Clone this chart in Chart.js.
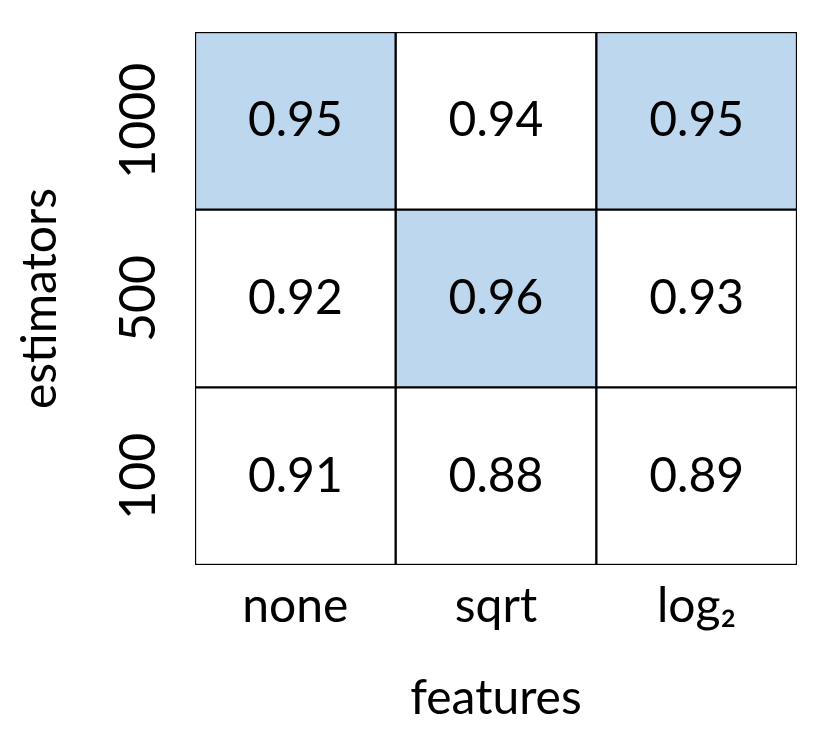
<!DOCTYPE html>
<html>
<head>
<meta charset="utf-8">
<script src="https://cdn.jsdelivr.net/npm/chart.js@4"></script>
<style>
  html, body { margin: 0; padding: 0; background: #fff; }
  #wrap { width: 831px; height: 731px; }
</style>
</head>
<body>
<div id="wrap"><canvas id="grid" width="831" height="731"></canvas></div>
<script>
// accuracy grid: features (columns) x estimators (rows)
const features = ['none', 'sqrt', 'log\u2082'];
const estimators = ['100', '500', '1000'];
const scores100 = [0.91, 0.88, 0.89];
const scores500 = [0.92, 0.96, 0.93];
const scores1000 = [0.95, 0.94, 0.95];

const rows = [scores100, scores500, scores1000];
const BLUE = '#BDD7EE';
const FONT = 'Lato, "Open Sans", "Noto Sans", sans-serif';

// best value in each column gets shaded
const colMax = features.map((f, j) => Math.max(...rows.map(r => r[j])));

const datasets = rows.map((r, i) => ({
  label: estimators[i],
  data: features.map(() => 1),
  scores: r,
  backgroundColor: r.map((v, j) => v === colMax[j] ? BLUE : '#ffffff'),
  borderColor: '#000',
  borderWidth: 1.5,
  borderSkipped: false,
  barPercentage: 1,
  categoryPercentage: 1
}));

const cellText = {
  id: 'cellText',
  afterDatasetsDraw(chart){
    const ctx = chart.ctx;
    ctx.save();
    ctx.fillStyle = '#000';
    ctx.font = '48px ' + FONT;
    ctx.textAlign = 'center';
    ctx.textBaseline = 'middle';
    chart.data.datasets.forEach((ds, i) => {
      chart.getDatasetMeta(i).data.forEach((bar, j) => {
        ctx.fillText(ds.scores[j].toFixed(2), bar.x, (bar.y + bar.base) / 2);
      });
    });
    ctx.restore();
  }
};

new Chart(document.getElementById('grid').getContext('2d'), {
  type: 'bar',
  data: { labels: features, datasets },
  plugins: [cellText],
  options: {
    responsive: false,
    animation: false,
    layout: { padding: { left: 0, top: 32, right: 34, bottom: 0 } },
    plugins: { legend: { display: false }, tooltip: { enabled: false } },
    scales: {
      x: {
        stacked: true,
        grid: { display: false, drawTicks: false },
        border: { display: false },
        ticks: { color: '#000', font: { family: FONT, size: 48 }, padding: 13 },
        title: { display: true, text: 'features', color: '#000', font: { family: FONT, size: 48 }, padding: { top: 0, bottom: 4 } },
        afterFit(s){ s.height = 166; s.paddingLeft = 0; s.paddingRight = 0; }
      },
      y: {
        stacked: true,
        min: 0, max: 3,
        grid: { display: false, drawTicks: false },
        border: { display: false },
        afterBuildTicks(s){ s.ticks = estimators.map((e, i) => ({ value: i + 0.5 })); },
        ticks: {
          color: '#000', font: { family: FONT, size: 50 },
          minRotation: 90, maxRotation: 90, crossAlign: 'center', padding: -2,
          callback: (v, i) => estimators[i]
        },
        title: { display: true, text: 'estimators', color: '#000', font: { family: FONT, size: 48 }, padding: { top: 12, bottom: 0 } },
        afterFit(s){ s.width = 195; s.paddingTop = 0; s.paddingBottom = 0; }
      }
    }
  }
});
</script>
</body>
</html>
